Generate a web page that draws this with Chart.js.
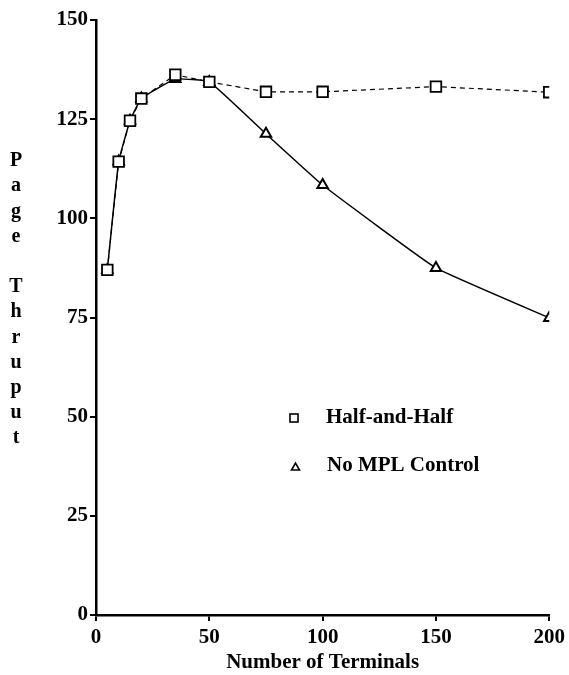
<!DOCTYPE html>
<html>
<head>
<meta charset="utf-8">
<script src="https://cdn.jsdelivr.net/npm/chart.js@4.4.1/dist/chart.umd.min.js"></script>
<style>
  html, body { margin: 0; padding: 0; background: #fff; }
  #wrap { width: 569px; height: 675px; }
</style>
</head>
<body>
<div id="wrap"><canvas id="thruputChart" width="569" height="675"></canvas></div>
<script>
// values
const terminals = [5, 10, 15, 20, 35, 50, 75, 100, 150, 200];
const halfAndHalf = [87, 114.3, 124.6, 130.2, 136.2, 134.4, 131.9, 131.9, 133.2, 131.8];
const noMplControl = [87, 114.3, 124.6, 130.2, 135.1, 134.4, 121.3, 108.4, 87.5, 74.9];
const xTicks = [0, 50, 100, 150, 200];
const yTicks = [0, 25, 50, 75, 100, 125, 150];
const yTitleLetters = ['P', 'a', 'g', 'e', '', 'T', 'h', 'r', 'u', 'p', 'u', 't'];
const legendLabels = ['Half-and-Half', 'No MPL Control'];

const serif = '"Liberation Serif", "Times New Roman", serif';
const ink = '#000';

const toPoints = values => terminals.map((t, i) => ({ x: t, y: values[i] }));

// stacked y title + legend inside the plot
const decorations = {
    id: 'decorations',
    afterDraw(chart) {
        const ctx = chart.ctx;
        ctx.save();
        ctx.fillStyle = ink;
        ctx.strokeStyle = ink;
        ctx.font = `bold 20px ${serif}`;
        ctx.textAlign = 'center';
        ctx.textBaseline = 'middle';
        let y = 161;
        yTitleLetters.forEach(letter => {
            if (letter) ctx.fillText(letter, 16, y);
            y += 25.2;
        });

        // legend
        ctx.textAlign = 'left';
        ctx.lineWidth = 1.6;
        ctx.strokeRect(290, 414, 8, 8);
        ctx.beginPath();
        ctx.moveTo(291.5, 470);
        ctx.lineTo(295.5, 463);
        ctx.lineTo(299.5, 470);
        ctx.closePath();
        ctx.stroke();
        ctx.font = `bold 21px ${serif}`;
        ctx.fillText(legendLabels[0], 326, 418);
        ctx.fillText(legendLabels[1], 327, 466);
        ctx.restore();
    }
};

new Chart(document.getElementById('thruputChart'), {
    type: 'line',
    data: {
        datasets: [{
            label: legendLabels[0],
            data: toPoints(halfAndHalf),
            borderColor: ink,
            borderWidth: 1.2,
            borderDash: [5, 4],
            pointStyle: 'rect',
            pointRadius: 7.5,
            pointBorderWidth: 1.8,
            pointBackgroundColor: '#fff',
            pointBorderColor: ink,
            tension: 0,
            fill: false
        }, {
            label: legendLabels[1],
            data: toPoints(noMplControl),
            borderColor: ink,
            borderWidth: 1.5,
            pointStyle: 'triangle',
            pointRadius: 6,
            pointBorderWidth: 2,
            pointBackgroundColor: '#fff',
            pointBorderColor: ink,
            tension: 0.1,
            fill: false
        }]
    },
    options: {
        responsive: false,
        animation: false,
        layout: {
            padding: { top: 20, right: 19, left: 0, bottom: 0 }
        },
        plugins: {
            legend: { display: false },
            tooltip: { enabled: false }
        },
        scales: {
            x: {
                type: 'linear',
                min: 0,
                max: 200,
                afterBuildTicks: scale => {
                    scale.ticks = xTicks.map(v => ({ value: v }));
                },
                afterFit: scale => {
                    scale.height = 60;
                },
                border: { color: ink, width: 2.5 },
                grid: {
                    display: true,
                    drawOnChartArea: false,
                    tickLength: 6,
                    color: ink,
                    lineWidth: 2
                },
                ticks: {
                    color: ink,
                    padding: 4,
                    maxRotation: 0,
                    font: { family: serif, size: 21, weight: 'bold' }
                },
                title: {
                    display: true,
                    text: 'Number of Terminals',
                    color: ink,
                    padding: { top: -6, bottom: 0 },
                    font: { family: serif, size: 21, weight: 'bold' }
                }
            },
            y: {
                min: 0,
                max: 150,
                afterBuildTicks: scale => {
                    scale.ticks = yTicks.map(v => ({ value: v }));
                },
                afterFit: scale => {
                    scale.width = 96;
                },
                border: { color: ink, width: 2.5 },
                grid: {
                    display: true,
                    drawOnChartArea: false,
                    tickLength: 6,
                    color: ink,
                    lineWidth: 2
                },
                ticks: {
                    color: ink,
                    padding: 2,
                    font: { family: serif, size: 21, weight: 'bold' }
                }
            }
        }
    },
    plugins: [decorations]
});
</script>
</body>
</html>
